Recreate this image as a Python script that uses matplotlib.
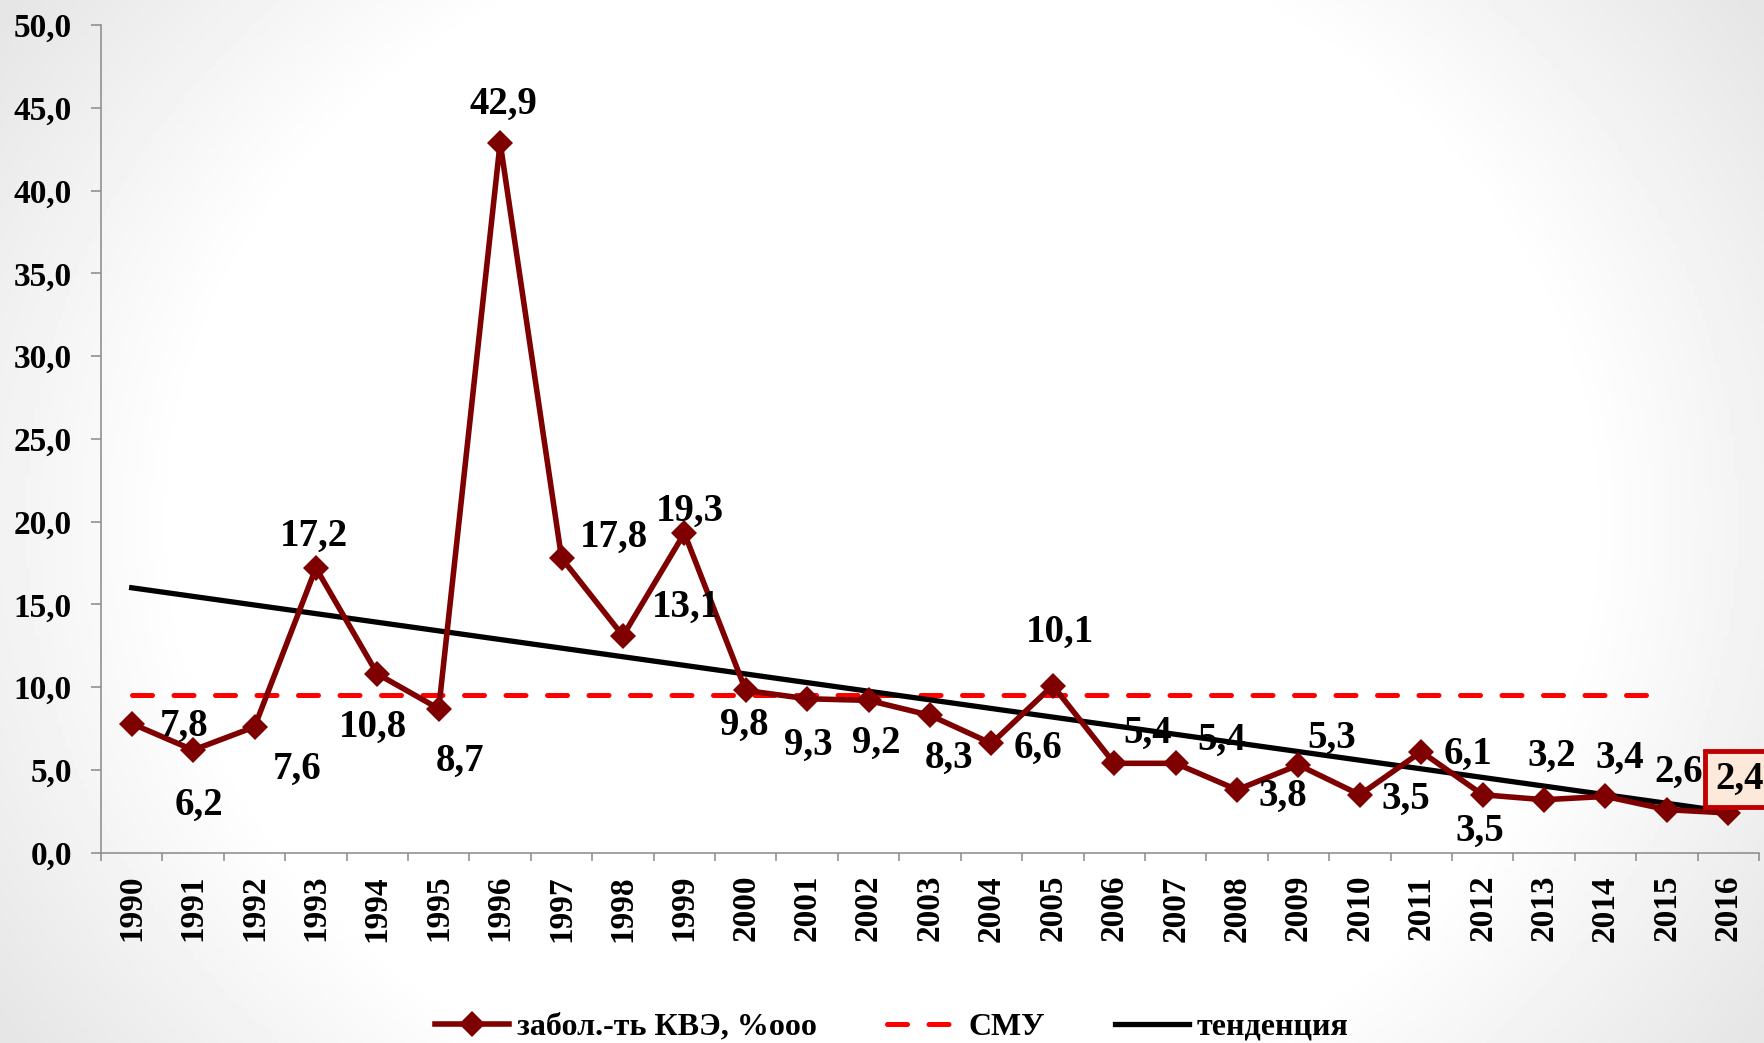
import numpy as np
import matplotlib
matplotlib.use('Agg')
import matplotlib.pyplot as plt
from matplotlib.ticker import FixedLocator, FuncFormatter
from matplotlib.lines import Line2D

# Стиль
plt.rcParams['font.family'] = ['Liberation Serif', 'DejaVu Serif']
plt.rcParams['font.weight'] = 'bold'

# Данные
years = [1990, 1991, 1992, 1993, 1994, 1995, 1996, 1997, 1998, 1999,
         2000, 2001, 2002, 2003, 2004, 2005, 2006, 2007, 2008, 2009,
         2010, 2011, 2012, 2013, 2014, 2015, 2016]
kve = [7.8, 6.2, 7.6, 17.2, 10.8, 8.7, 42.9, 17.8, 13.1, 19.3,
       9.8, 9.3, 9.2, 8.3, 6.6, 10.1, 5.4, 5.4, 3.8, 5.3,
       3.5, 6.1, 3.5, 3.2, 3.4, 2.6, 2.4]
smu = [9.5] * 26          # среднемноголетний уровень, 1990-2015
y_ticks = [0, 5, 10, 15, 20, 25, 30, 35, 40, 45, 50]
series_names = ['забол.-ть КВЭ, %ооо', 'СМУ', 'тенденция']

# смещения подписей (пиксели: вправо, вниз)
label_offsets = [(52, 3), (6, 55), (43, 42), (-2, -32), (-4, 53), (21, 53),
                 (3, -38), (52, -21), (63, -28), (6, -22), (-2, 35), (1, 47),
                 (8, 43), (19, 43), (47, 5), (7, -53), (33, -30), (46, -23),
                 (46, 7), (33, -27), (46, 5), (47, 3), (-3, 37), (8, -43),
                 (14, -38), (12, -37), (11, -34)]

W, H = 1764, 1043
fig = plt.figure(figsize=(W / 100, H / 100), dpi=100)

# фон: белый центр, серые края (слева и справа)
bg = fig.add_axes([0, 0, 1, 1], zorder=-10)
gx, gy = np.meshgrid(np.linspace(-1, 1, 400), np.linspace(-1, 1, 300))
r = np.sqrt(gx**2 + (gy / 1.45)**2)
shade = 1 - 0.10 * np.clip((r - 0.8) / 0.4, 0, 1)
bg.imshow(shade, cmap='gray', vmin=0, vmax=1, aspect='auto', extent=[0, 1, 0, 1])
bg.axis('off')

ax = fig.add_axes([101 / W, 1 - 852.7 / H, (1759 - 101) / W, (852.7 - 25) / H])
ax.patch.set_alpha(0)

x = np.arange(len(years))

# тренд (линейный, как в Excel)
k, b = np.polyfit(x, kve, 1)
ax.plot(x, k * x + b, color='black', lw=3.8, zorder=3)

ax.plot(x[:len(smu)], smu, color='#ff0000', lw=3.6,
        linestyle=(0, (4.0, 4.3)), dash_capstyle='round', zorder=2)

ax.plot(x, kve, color='#7f0000', lw=4.0, marker='D', markersize=13,
        markeredgewidth=0, zorder=4)

for i, v in enumerate(kve):
    dx, dy = label_offsets[i]
    txt = f"{v:.1f}".replace('.', ',')
    if i == len(kve) - 1:
        ax.annotate(txt, (x[i], v), xytext=(dx, -dy), textcoords='offset pixels',
                    ha='center', va='center', fontsize=28, fontweight='bold',
                    zorder=6, annotation_clip=False,
                    bbox=dict(boxstyle='square,pad=0.25', facecolor='#fde9d9',
                              edgecolor='#c00000', linewidth=3.5))
    else:
        ax.annotate(txt, (x[i], v), xytext=(dx, -dy), textcoords='offset pixels',
                    ha='center', va='center', fontsize=28, fontweight='bold',
                    zorder=6, annotation_clip=False)

ax.set_xlim(-0.5, len(years) - 0.5)
ax.set_ylim(0, 50)

ax.yaxis.set_major_locator(FixedLocator(y_ticks))
ax.yaxis.set_major_formatter(FuncFormatter(lambda v, p: f"{v:.1f}".replace('.', ',')))
ax.tick_params(axis='y', direction='out', length=7, width=1.1, color='#898989',
               pad=14, labelsize=24)

ax.set_xticks(np.arange(len(years) + 1) - 0.5)
ax.set_xticklabels([])
ax.set_xticks(x, minor=True)
ax.set_xticklabels([str(y) for y in years], minor=True, rotation=90, va='top')
ax.tick_params(axis='x', which='major', direction='out', length=6, width=1.1,
               color='#898989')
ax.tick_params(axis='x', which='minor', length=0, pad=16, labelsize=24)
for lab in ax.get_xticklabels(minor=True) + ax.get_yticklabels():
    lab.set_fontweight('bold')

for s in ['top', 'right']:
    ax.spines[s].set_visible(False)
for s in ['left', 'bottom']:
    ax.spines[s].set_color('#898989')
    ax.spines[s].set_linewidth(1.1)

handles = [
    Line2D([], [], color='#7f0000', lw=4.0, marker='D', markersize=13, markeredgewidth=0),
    Line2D([], [], color='#ff0000', lw=3.6, linestyle=(0, (4.0, 4.3)), dash_capstyle='round'),
    Line2D([], [], color='black', lw=3.8),
]
fig.legend(handles, series_names, loc='center', bbox_to_anchor=(892 / W, 1 - 1027 / H),
           ncol=3, frameon=False, prop={'size': 23, 'weight': 'bold'},
           handlelength=2.3, handletextpad=0.25, columnspacing=2.2)

fig.savefig('out.png', dpi=100)
